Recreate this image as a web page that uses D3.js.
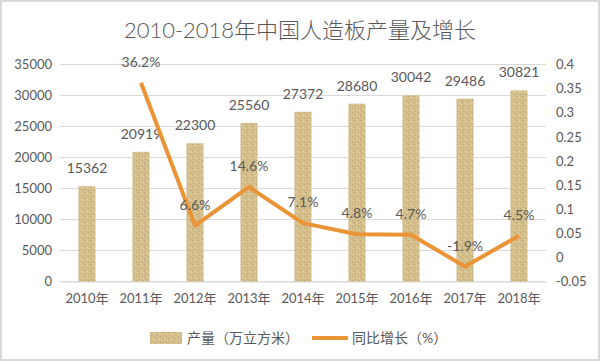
<!DOCTYPE html>
<html>
<head>
<meta charset="utf-8">
<script src="https://cdn.jsdelivr.net/npm/d3@7"></script>
<style>
  body { margin: 0; background: #fff; }
  svg text { font-family: Lato, "Noto Sans CJK SC", sans-serif; fill: #595959; }
</style>
</head>
<body>
<div id="chart"></div>
<script>
const years = ["2010年", "2011年", "2012年", "2013年", "2014年", "2015年", "2016年", "2017年", "2018年"];
const output = [15362, 20919, 22300, 25560, 27372, 28680, 30042, 29486, 30821];
const growth = [null, 0.362, 0.066, 0.146, 0.071, 0.048, 0.047, -0.019, 0.045];
const growthLabels = [null, "36.2%", "6.6%", "14.6%", "7.1%", "4.8%", "4.7%", "-1.9%", "4.5%"];
const leftTicks = [0, 5000, 10000, 15000, 20000, 25000, 30000, 35000];
const rightTicks = [-0.05, 0, 0.05, 0.1, 0.15, 0.2, 0.25, 0.3, 0.35, 0.4];

const width = 600, height = 361;
const margin = { top: 64.5, right: 54, bottom: 79.5, left: 60 };

const svg = d3.select("#chart").append("svg")
  .attr("width", width)
  .attr("height", height);

// outer frame
svg.append("rect")
  .attr("x", 1).attr("y", 1)
  .attr("width", width - 2).attr("height", height - 2)
  .attr("fill", "#fff")
  .attr("stroke", "#d9d9d9")
  .attr("stroke-width", 2);

// bar texture
const defs = svg.append("defs");
const pat = defs.append("pattern")
  .attr("id", "sand")
  .attr("patternUnits", "userSpaceOnUse")
  .attr("width", 6).attr("height", 6);
pat.append("rect").attr("width", 6).attr("height", 6).attr("fill", "#d3be8c");
[[0, 0, "#b59f68"], [3, 1, "#e6d8b0"], [1, 3, "#c2ab74"], [4, 4, "#b8a16a"], [5, 2, "#e2d3a6"], [2, 5, "#ddcb9b"]]
  .forEach(([px, py, c]) => pat.append("rect").attr("x", px).attr("y", py).attr("width", 1).attr("height", 1).attr("fill", c));

const x = d3.scaleBand().domain(years).range([margin.left, width - margin.right]);
const yL = d3.scaleLinear().domain([0, 35000]).range([height - margin.bottom, margin.top]);
const yR = d3.scaleLinear().domain([-0.05, 0.4]).range([height - margin.bottom, margin.top]);

// title
svg.append("text")
  .attr("x", 300).attr("y", 38)
  .attr("text-anchor", "middle")
  .style("font-size", "22px")
  .style("font-weight", "300")
  .text("2010-2018年中国人造板产量及增长");

// gridlines
svg.append("g")
  .selectAll("line")
  .data(leftTicks)
  .join("line")
  .attr("x1", margin.left).attr("x2", width - margin.right)
  .attr("y1", d => yL(d)).attr("y2", d => yL(d))
  .attr("stroke", "#d9d9d9")
  .attr("stroke-width", 1);

// left axis
const axL = svg.append("g")
  .attr("transform", `translate(${margin.left - 6},0)`)
  .call(d3.axisLeft(yL).tickValues(leftTicks).tickSize(0).tickPadding(2).tickFormat(d3.format("d")));
axL.select(".domain").remove();
axL.selectAll("text").style("font-size", "13px").attr("fill", "#595959");

// right axis
const axR = svg.append("g")
  .attr("transform", `translate(${width - margin.right + 8},0)`)
  .call(d3.axisRight(yR).tickValues(rightTicks).tickSize(0).tickPadding(2).tickFormat(d => String(+d.toFixed(2))));
axR.select(".domain").remove();
axR.selectAll("text").style("font-size", "13px").attr("fill", "#595959");

// bottom axis
const axB = svg.append("g")
  .attr("transform", `translate(0,${yL(0)})`)
  .call(d3.axisBottom(x).tickSize(0).tickPadding(12));
axB.select(".domain").attr("stroke", "#d9d9d9");
axB.selectAll("text").style("font-size", "13px").attr("fill", "#595959");

// bars
const barW = 17;
svg.append("g")
  .selectAll("rect")
  .data(output)
  .join("rect")
  .attr("x", (d, i) => x(years[i]) + x.bandwidth() / 2 - barW / 2)
  .attr("y", d => yL(d))
  .attr("width", barW)
  .attr("height", d => yL(0) - yL(d))
  .attr("fill", "url(#sand)");

svg.append("g")
  .selectAll("text")
  .data(output)
  .join("text")
  .attr("x", (d, i) => x(years[i]) + x.bandwidth() / 2)
  .attr("y", d => yL(d) - 13)
  .attr("text-anchor", "middle")
  .style("font-size", "14px")
  .text(d => d);

// growth line
const pts = growth.map((g, i) => ({ year: years[i], g: g, label: growthLabels[i] })).filter(d => d.g !== null);
const line = d3.line()
  .x(d => x(d.year) + x.bandwidth() / 2)
  .y(d => yR(d.g));
svg.append("path")
  .datum(pts)
  .attr("d", line)
  .attr("fill", "none")
  .attr("stroke", "#ea9435")
  .attr("stroke-width", 4)
  .attr("stroke-linejoin", "round");

svg.append("g")
  .selectAll("text")
  .data(pts)
  .join("text")
  .attr("x", d => x(d.year) + x.bandwidth() / 2)
  .attr("y", d => yR(d.g) - 16)
  .attr("text-anchor", "middle")
  .style("font-size", "14px")
  .text(d => d.label);

// legend
const lg = svg.append("g").attr("transform", "translate(0,338)");
lg.append("rect")
  .attr("x", 150).attr("y", -6)
  .attr("width", 32).attr("height", 12)
  .attr("fill", "url(#sand)");
lg.append("text")
  .attr("x", 187).attr("y", 5)
  .style("font-size", "14px")
  .text("产量（万立方米）");
lg.append("line")
  .attr("x1", 312).attr("x2", 348)
  .attr("y1", 0).attr("y2", 0)
  .attr("stroke", "#ea9435")
  .attr("stroke-width", 4);
lg.append("text")
  .attr("x", 352).attr("y", 5)
  .style("font-size", "14px")
  .text("同比增长（%）");
</script>
</body>
</html>
